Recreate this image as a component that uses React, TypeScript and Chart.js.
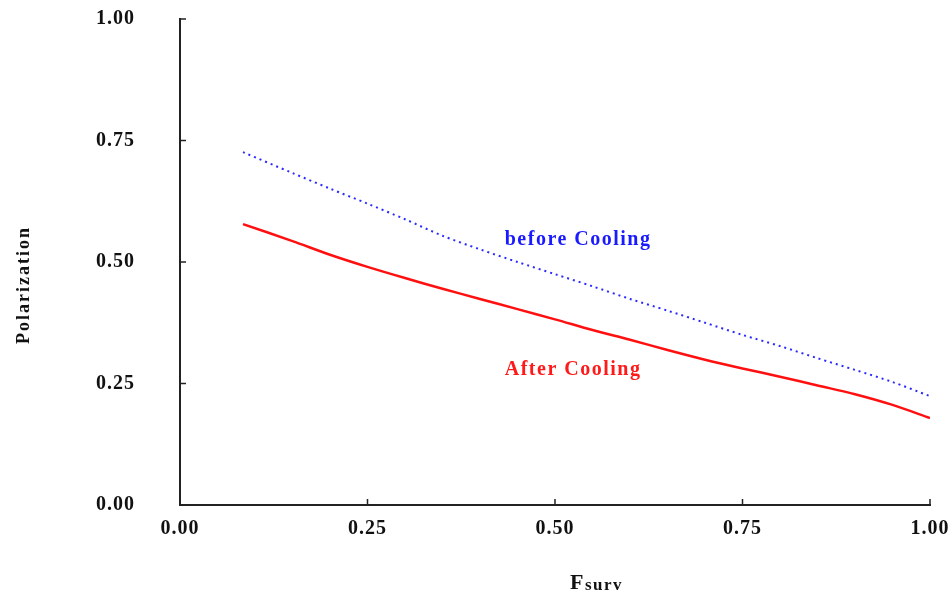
import React, { useEffect, useRef } from "react";
import { Chart, registerables } from "chart.js";

Chart.register(...registerables);

const fsurv = [0.084, 0.15, 0.2, 0.25, 0.3, 0.35, 0.4, 0.45, 0.5, 0.55, 0.6, 0.65, 0.7, 0.75, 0.8, 0.85, 0.9, 0.95, 1.0];
const beforeCooling = [0.726, 0.683, 0.651, 0.62, 0.588, 0.554, 0.526, 0.5, 0.475, 0.45, 0.424, 0.4, 0.375, 0.35, 0.327, 0.302, 0.278, 0.253, 0.224];
const afterCooling = [0.578, 0.543, 0.515, 0.49, 0.467, 0.445, 0.424, 0.403, 0.382, 0.36, 0.34, 0.319, 0.299, 0.281, 0.264, 0.246, 0.228, 0.206, 0.179];
const tickValues = [0, 0.25, 0.5, 0.75, 1.0];
const seriesLabels = ["before Cooling", "After Cooling"];
const labelAnchors = [
  { x: 0.433, y: 0.545 },
  { x: 0.433, y: 0.278 },
];
const xTitleMain = "F";
const xTitleSub = "surv";
const yTitle = "Polarization";

const SERIF = '"Liberation Serif", "DejaVu Serif", serif';

const annotatePlugin = {
  id: "annotate",
  beforeDraw(chart: any) {
    (chart.ctx as any).letterSpacing = "1px";
  },
  afterDraw(chart: any) {
    const { ctx, chartArea, scales } = chart;
    const xs = scales.x;
    const ys = scales.y;
    ctx.save();
    // inward ticks
    ctx.strokeStyle = "#222";
    ctx.lineWidth = 1.5;
    tickValues.forEach((v) => {
      const px = xs.getPixelForValue(v);
      ctx.beginPath();
      ctx.moveTo(px, chartArea.bottom);
      ctx.lineTo(px, chartArea.bottom - 6);
      ctx.stroke();
      const py = ys.getPixelForValue(v);
      ctx.beginPath();
      ctx.moveTo(chartArea.left, py);
      ctx.lineTo(chartArea.left + 6, py);
      ctx.stroke();
    });
    // series labels
    const colors = ["#1a1aff", "#ff1a1a"];
    ctx.font = `bold 20px ${SERIF}`;
    (ctx as any).letterSpacing = "1.5px";
    ctx.textBaseline = "middle";
    ctx.textAlign = "left";
    seriesLabels.forEach((t, i) => {
      ctx.fillStyle = colors[i];
      ctx.fillText(t, xs.getPixelForValue(labelAnchors[i].x), ys.getPixelForValue(labelAnchors[i].y));
    });
    // x title with subscript
    ctx.fillStyle = "#111";
    ctx.textBaseline = "alphabetic";
    ctx.font = `bold 22px ${SERIF}`;
    const fx = 570;
    const fy = 589;
    ctx.fillText(xTitleMain, fx, fy);
    const fw = ctx.measureText(xTitleMain).width;
    ctx.font = `bold 17px ${SERIF}`;
    ctx.fillText(xTitleSub, fx + fw, fy + 1);
    // y title
    ctx.translate(24, 285);
    ctx.rotate(-Math.PI / 2);
    ctx.font = `bold 18px ${SERIF}`;
    (ctx as any).letterSpacing = "2px";
    ctx.textAlign = "center";
    ctx.textBaseline = "middle";
    ctx.fillText(yTitle, 0, 0);
    ctx.restore();
  },
};

const zeroPad = (s: any) => {
  s.paddingTop = 0;
  s.paddingBottom = 0;
  s.paddingLeft = 0;
  s.paddingRight = 0;
};

export default function App() {
  const ref = useRef<HTMLCanvasElement | null>(null);
  useEffect(() => {
    if (!ref.current) return;
    const chart = new Chart(ref.current, {
      type: "line",
      data: {
        datasets: [
          {
            label: seriesLabels[0],
            data: fsurv.map((x, i) => ({ x, y: beforeCooling[i] })),
            borderColor: "#2a2aff",
            borderWidth: 2,
            borderDash: [2, 4],
            pointRadius: 0,
            tension: 0.3,
            fill: false,
          },
          {
            label: seriesLabels[1],
            data: fsurv.map((x, i) => ({ x, y: afterCooling[i] })),
            borderColor: "#ff1010",
            borderWidth: 2.5,
            pointRadius: 0,
            tension: 0.3,
            fill: false,
          },
        ],
      },
      options: {
        animation: false,
        responsive: false,
        maintainAspectRatio: false,
        layout: { padding: { left: 0, right: 22, top: 19, bottom: 0 } },
        plugins: { legend: { display: false }, tooltip: { enabled: false } },
        scales: {
          x: {
            type: "linear",
            min: 0,
            max: 1,
            afterFit: (s: any) => {
              s.height = 87;
              zeroPad(s);
            },
            afterBuildTicks: (s: any) => {
              s.ticks = tickValues.map((v) => ({ value: v }));
            },
            grid: { display: false, drawTicks: false },
            border: { display: true, color: "#222", width: 2 },
            ticks: {
              padding: 12,
              color: "#111",
              font: { family: SERIF, size: 20, weight: "bold" },
              callback: (v: any) => Number(v).toFixed(2),
              maxRotation: 0,
            },
          },
          y: {
            type: "linear",
            min: 0,
            max: 1,
            afterFit: (s: any) => {
              s.width = 180;
              zeroPad(s);
            },
            afterBuildTicks: (s: any) => {
              s.ticks = tickValues.map((v) => ({ value: v }));
            },
            grid: { display: false, drawTicks: false },
            border: { display: true, color: "#222", width: 2 },
            ticks: {
              padding: 45,
              color: "#111",
              font: { family: SERIF, size: 20, weight: "bold" },
              callback: (v: any) => Number(v).toFixed(2),
            },
          },
        },
      },
      plugins: [annotatePlugin],
    } as any);
    return () => chart.destroy();
  }, []);
  return (
    <div style={{ position: "fixed", left: 0, top: 0, width: 952, height: 592, background: "#fff" }}>
      <canvas ref={ref} width={952} height={592} style={{ display: "block", width: 952, height: 592 }} />
    </div>
  );
}
